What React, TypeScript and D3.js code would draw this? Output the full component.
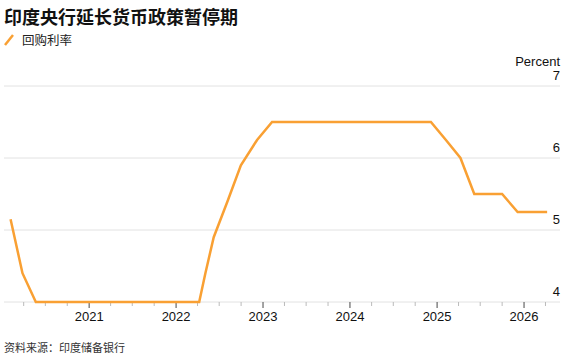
import React from "react";
import * as d3 from "d3";

const W = 575;
const H = 361;

const dates: string[] = [
  "2020-02-06", "2020-03-27", "2020-05-22", "2020-08-06", "2020-10-09", "2020-12-04",
  "2021-02-05", "2021-04-07", "2021-06-04", "2021-08-06", "2021-10-08", "2021-12-08",
  "2022-02-10", "2022-04-08", "2022-05-04", "2022-06-08", "2022-08-05", "2022-09-30",
  "2022-12-07", "2023-02-08", "2023-04-06", "2023-06-08", "2023-08-10", "2023-10-06",
  "2023-12-08", "2024-02-08", "2024-04-05", "2024-06-07", "2024-08-08", "2024-10-09",
  "2024-12-06", "2025-02-07", "2025-04-09", "2025-06-06", "2025-08-06", "2025-10-01",
  "2025-12-05", "2026-02-06", "2026-04-08",
];
const repoRate: number[] = [
  5.15, 4.4, 4.0, 4.0, 4.0, 4.0,
  4.0, 4.0, 4.0, 4.0, 4.0, 4.0,
  4.0, 4.0, 4.4, 4.9, 5.4, 5.9,
  6.25, 6.5, 6.5, 6.5, 6.5, 6.5,
  6.5, 6.5, 6.5, 6.5, 6.5, 6.5,
  6.5, 6.25, 6.0, 5.5, 5.5, 5.5,
  5.25, 5.25, 5.25,
];
const yTicks: number[] = [4, 5, 6, 7];
const yearTicks: number[] = [2021, 2022, 2023, 2024, 2025, 2026];

const title = "印度央行延长货币政策暂停期";
const seriesName = "回购利率";
const unitLabel = "Percent";
const source = "资料来源：印度储备银行";

const LATIN = "'Liberation Sans', Arial, 'Noto Sans CJK SC', sans-serif";
const CJK = "'Noto Sans CJK SC', 'Liberation Sans', sans-serif";
const ORANGE = "#f9a033";

export default function App() {
  const parse = d3.timeParse("%Y-%m-%d");
  const data = dates.map((d, i) => ({ date: parse(d) as Date, value: repoRate[i] }));

  const x = d3
    .scaleTime()
    .domain([new Date(2020, 0, 1), new Date(2026, 5, 1)])
    .range([2, 560]);
  const y = d3.scaleLinear().domain([4, 7]).range([302, 86]);

  const line = d3
    .line<{ date: Date; value: number }>()
    .x((d) => x(d.date))
    .y((d) => y(d.value));

  const quarterTicks = x.ticks(d3.timeMonth.every(3) as any).filter((d) => d.getMonth() !== 0);

  return (
    <svg
      width={W}
      height={H}
      style={{ position: "absolute", left: 0, top: 0, background: "#fff" }}
    >
      <text x={4} y={24} fontFamily={CJK} fontWeight="bold" fontSize={18} fill="#111">
        {title}
      </text>
      <line x1={5} y1={45} x2={13} y2={35} stroke={ORANGE} strokeWidth={2.5} />
      <text x={22} y={45} fontFamily={CJK} fontSize={12.5} fill="#222">
        {seriesName}
      </text>

      {yTicks.map((t) => (
        <g key={t}>
          <line x1={4} x2={560} y1={y(t)} y2={y(t)} stroke="#e2e2e2" strokeWidth={1} />
          <text
            x={560}
            y={y(t) - 6}
            textAnchor="end"
            fontFamily={LATIN}
            fontSize={13}
            fill="#111"
          >
            {t}
          </text>
        </g>
      ))}
      <text x={560} y={66} textAnchor="end" fontFamily={LATIN} fontSize={13} fill="#111">
        {unitLabel}
      </text>

      {quarterTicks.map((d, i) => (
        <line
          key={"q" + i}
          x1={x(d)}
          x2={x(d)}
          y1={302}
          y2={306}
          stroke="#bbb"
          strokeWidth={1}
        />
      ))}
      {yearTicks.map((yr) => {
        const xx = x(new Date(yr, 0, 1));
        return (
          <g key={yr}>
            <line x1={xx} x2={xx} y1={302} y2={308} stroke="#666" strokeWidth={1.2} />
            <text
              x={xx}
              y={321}
              textAnchor="middle"
              fontFamily={LATIN}
              fontSize={13}
              fill="#111"
            >
              {yr}
            </text>
          </g>
        );
      })}

      <path
        d={line(data) || ""}
        fill="none"
        stroke={ORANGE}
        strokeWidth={2.5}
        strokeLinejoin="miter"
      />

      <text x={4} y={352} fontFamily={CJK} fontSize={11} fill="#333">
        {source}
      </text>
    </svg>
  );
}
